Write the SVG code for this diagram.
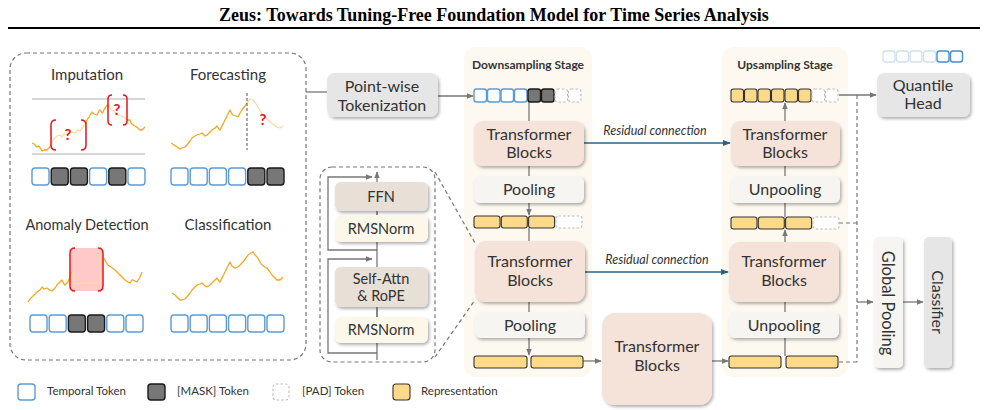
<svg xmlns="http://www.w3.org/2000/svg" width="985" height="410" viewBox="0 0 985 410">
<defs>
<style>
.t{font-family:Lato,"Open Sans","Noto Sans",sans-serif;fill:#333;text-anchor:middle}
.lg{font-family:Lato,"Open Sans",sans-serif;fill:#333;font-size:11.5px}
.tok{fill:#fff;stroke:#5b9bd5;stroke-width:1.4}
.msk{fill:#777;stroke:#1a1a1a;stroke-width:1.4}
.pad{fill:#fff;stroke:#bbb;stroke-width:1.1;stroke-dasharray:2.5,2}
.rep{fill:#fdd98a;stroke:#333;stroke-width:1.1}
.tb{fill:#f5e2d8}
.pl{fill:#f6f5f1}
.gr{fill:#e6e6e6}
.stage{fill:#fdf8f0}
.ln{stroke:#777;stroke-width:1.3;fill:none}
.dl{stroke:#777;stroke-width:1.2;fill:none;stroke-dasharray:4,3}
.res{stroke:#2b6385;stroke-width:1.4;fill:none}
.ser{fill:none;stroke:#f5a623;stroke-width:1.3;stroke-linejoin:round}
.fad{fill:none;stroke:#fcd9a5;stroke-width:1.3;stroke-linejoin:round}
.brk{fill:none;stroke:#e8141c;stroke-width:1.5}
.q{font-family:Lato,"Open Sans",sans-serif;font-weight:bold;fill:#e8141c;font-size:15px;text-anchor:middle}
.ri{font-family:Lato,"Open Sans",sans-serif;font-style:italic;font-size:12.5px;fill:#333;text-anchor:middle}
</style>
<filter id="sh" x="-15%" y="-15%" width="135%" height="150%"><feDropShadow dx="1.5" dy="2" stdDeviation="1.4" flood-color="#000" flood-opacity="0.3"/></filter>
<marker id="ag" viewBox="0 0 10 10" refX="9" refY="5" markerWidth="7" markerHeight="7" orient="auto" markerUnits="userSpaceOnUse"><path d="M0,1 L10,5 L0,9 z" fill="#777"/></marker>
<marker id="ab" viewBox="0 0 10 10" refX="9" refY="5" markerWidth="8" markerHeight="8" orient="auto" markerUnits="userSpaceOnUse"><path d="M0,1 L10,5 L0,9 z" fill="#2b6385"/></marker>
</defs>
<rect width="985" height="410" fill="#fff"/>

<g id="title">
<text x="494" y="21" font-family="'Liberation Serif',serif" font-weight="bold" font-size="18" text-anchor="middle" fill="#000">Zeus: Towards Tuning-Free Foundation Model for Time Series Analysis</text>
<line x1="8" y1="28" x2="980" y2="28" stroke="#000" stroke-width="2"/>
</g>

<g id="tasks">
<rect x="10" y="53" width="296" height="307" rx="16" class="dl" stroke-width="1.3" stroke-dasharray="6,4"/>
<text class="t" x="87" y="80" font-size="15">Imputation</text>
<text class="t" x="228" y="80" font-size="15">Forecasting</text>
<text class="t" x="87" y="230" font-size="14.5">Anomaly Detection</text>
<text class="t" x="228" y="230" font-size="15">Classification</text>
<line x1="32" y1="99" x2="145" y2="99" stroke="#999" stroke-width="0.8"/>
<line x1="32" y1="154" x2="145" y2="154" stroke="#999" stroke-width="0.8"/>
<polyline class="ser" points="32,143 34,144 37,147 39,146 42,151 44,150 47,150 49,148 51,145"/>
<polyline class="fad" points="51,145 53,140 55,138 57,136 60,135 62,137 64,134 67,135 69,133 72,132 75,133 78,130 80,131 83,127 86,124"/>
<polyline class="ser" points="86,124 87,120 89,117 92,112 94,114 97,115 99,111 100,110 102,113 103,112 105,108 108,104"/>
<polyline class="fad" points="108,104 110,108 112,110 115,112 118,115 121,116 124,117 127,120"/>
<polyline class="ser" points="127,120 130,120 131,123 133,125 135,126 138,128 140,130 142,130 145,127"/>
<path class="brk" d="M56,120 Q51,120 51,125 L51,145 Q51,150 56,150 M81,120 Q86,120 86,125 L86,145 Q86,150 81,150"/>
<path class="brk" d="M112,95 Q108,95 108,99 L108,121 Q108,125 112,125 M123,95 Q127,95 127,99 L127,121 Q127,125 123,125"/>
<text class="q" x="68" y="140">?</text>
<text class="q" x="117" y="115">?</text>
<polyline class="ser" points="171,143 174,145 177,147 180,149 182,148 185,147 187,145 190,141 192,138 195,136 197,135 200,134 202,133 205,136 207,135 210,132 212,130 215,128 217,126 219,129 220,130 223,124 225,120 228,114 230,110 232,114 233,115 236,116 238,117 240,113 242,110 245,106 247,103"/>
<polyline class="fad" points="247,103 250,99 253,100 256,104 258,107 261,112 263,115 266,118 270,122 273,124 277,127 280,128 283,126"/>
<line x1="247" y1="93" x2="247" y2="150" stroke="#555" stroke-width="1" stroke-dasharray="3,2"/>
<text class="q" x="263" y="125">?</text>
<rect x="70" y="248" width="33" height="43" rx="5" fill="#ffc9c9"/>
<polyline class="ser" points="28,302 30,299 32,297 35,294 37,292 40,290 42,287 44,289 47,288 50,290 52,291 55,288 57,285 60,282 62,280 64,284 65,285 67,283 68,282 70,277 71,272"/>
<polyline class="fad" points="73,272 73,283 100,283 100,250"/>
<polyline class="ser" points="104,258 106,262 108,265 111,267 115,270 118,273 120,275 123,278 125,280 128,282 130,283 132,280 133,280 135,281 137,282 140,277 142,272"/>
<path class="brk" d="M75,248 Q70,248 70,253 L70,286 Q70,291 75,291 M98,248 Q103,248 103,253 L103,286 Q103,291 98,291"/>
<polyline class="ser" points="172,293 175,295 177,297 180,300 182,300 185,299 187,297 190,293 192,290 195,287 197,285 200,284 202,283 205,286 207,287 210,285 212,283 215,280 217,278 219,281 220,282 223,276 225,272 228,266 230,262 232,266 235,268 238,267 240,265 243,262 246,258 248,255 251,253 253,252 255,255 258,258 260,262 262,265 265,267 267,268 270,272 272,275 275,278 277,280 280,280 283,277"/>
<rect class="tok" x="32" y="168" width="17" height="17" rx="3"/>
<rect class="msk" x="51.2" y="168" width="17" height="17" rx="3"/>
<rect class="msk" x="70.4" y="168" width="17" height="17" rx="3"/>
<rect class="tok" x="89.6" y="168" width="17" height="17" rx="3"/>
<rect class="msk" x="108.8" y="168" width="17" height="17" rx="3"/>
<rect class="tok" x="128" y="168" width="17" height="17" rx="3"/>
<rect class="tok" x="171" y="168" width="17" height="17" rx="3"/>
<rect class="tok" x="190.2" y="168" width="17" height="17" rx="3"/>
<rect class="tok" x="209.4" y="168" width="17" height="17" rx="3"/>
<rect class="tok" x="228.6" y="168" width="17" height="17" rx="3"/>
<rect class="msk" x="247.8" y="168" width="17" height="17" rx="3"/>
<rect class="msk" x="267" y="168" width="17" height="17" rx="3"/>
<rect class="tok" x="30" y="315" width="17" height="17" rx="3"/>
<rect class="tok" x="49.2" y="315" width="17" height="17" rx="3"/>
<rect class="msk" x="68.4" y="315" width="17" height="17" rx="3"/>
<rect class="msk" x="87.6" y="315" width="17" height="17" rx="3"/>
<rect class="tok" x="106.8" y="315" width="17" height="17" rx="3"/>
<rect class="tok" x="126" y="315" width="17" height="17" rx="3"/>
<rect class="tok" x="171" y="315" width="17" height="17" rx="3"/>
<rect class="tok" x="190.2" y="315" width="17" height="17" rx="3"/>
<rect class="tok" x="209.4" y="315" width="17" height="17" rx="3"/>
<rect class="tok" x="228.6" y="315" width="17" height="17" rx="3"/>
<rect class="tok" x="247.8" y="315" width="17" height="17" rx="3"/>
<rect class="tok" x="267" y="315" width="17" height="17" rx="3"/>
</g>

<g id="stages">
<rect class="stage" x="464" y="47" width="128" height="330" rx="12"/>
<rect class="stage" x="722" y="47" width="126" height="330" rx="12"/>
<text class="t" x="528" y="69" font-size="12" font-weight="bold" fill="#222">Downsampling Stage</text>
<text class="t" x="785" y="69" font-size="12" font-weight="bold" fill="#222">Upsampling Stage</text>
</g>

<g id="connectors">
<line class="ln" x1="306" y1="92" x2="327" y2="92"/>
<line class="ln" x1="438" y1="96" x2="473" y2="96" marker-end="url(#ag)"/>
<line class="ln" x1="529" y1="102" x2="529" y2="121"/>
<line class="ln" x1="529" y1="166" x2="529" y2="176"/>
<line class="ln" x1="529" y1="203" x2="529" y2="215" marker-end="url(#ag)"/>
<line class="ln" x1="529" y1="228" x2="529" y2="241"/>
<line class="ln" x1="529" y1="302" x2="529" y2="312"/>
<line class="ln" x1="529" y1="338" x2="529" y2="355" marker-end="url(#ag)"/>
<line class="ln" x1="583" y1="361" x2="601" y2="361" marker-end="url(#ag)"/>
<line class="ln" x1="712" y1="361" x2="728" y2="361" marker-end="url(#ag)"/>
<line class="ln" x1="785" y1="356" x2="785" y2="338"/>
<line class="ln" x1="785" y1="312" x2="785" y2="302"/>
<line class="ln" x1="785" y1="242" x2="785" y2="230" marker-end="url(#ag)"/>
<line class="ln" x1="785" y1="217" x2="785" y2="203"/>
<line class="ln" x1="785" y1="176" x2="785" y2="166"/>
<line class="ln" x1="785" y1="121" x2="785" y2="103" marker-end="url(#ag)"/>
<line class="res" x1="584" y1="143" x2="730" y2="143" marker-end="url(#ab)"/>
<line class="res" x1="585" y1="272" x2="728" y2="272" marker-end="url(#ab)"/>
<text class="ri" x="655" y="135">Residual connection</text>
<text class="ri" x="657" y="264">Residual connection</text>
<line class="ln" x1="839" y1="95" x2="876" y2="95" marker-end="url(#ag)"/>
<line class="dl" x1="857" y1="95" x2="857" y2="362"/>
<line class="dl" x1="839" y1="223" x2="857" y2="223"/>
<line class="dl" x1="839" y1="362" x2="857" y2="362"/>
<line class="ln" x1="857" y1="302" x2="873" y2="302" marker-end="url(#ag)"/>
<line class="ln" x1="903" y1="302" x2="923" y2="302" marker-end="url(#ag)"/>
<line class="dl" x1="435" y1="172" x2="475" y2="243"/>
<line class="dl" x1="435" y1="357" x2="475" y2="300"/>
</g>

<g id="pointwise">
<rect class="gr" x="327" y="73" width="111" height="44" rx="8" filter="url(#sh)"/>
<text class="t" x="382" y="92" font-size="16">Point-wise</text>
<text class="t" x="382" y="111" font-size="16">Tokenization</text>
</g>

<g id="block-detail">
<rect x="320" y="167" width="115" height="195" rx="12" class="dl" stroke-dasharray="4,3"/>
<path class="ln" d="M377,360 L377,172" marker-end="url(#ag)"/>
<path class="ln" d="M377,250 L328,250 L328,177 L372,177" marker-end="url(#ag)"/>
<path class="ln" d="M377,353 L328,353 L328,259 L372,259" marker-end="url(#ag)"/>
<rect x="335" y="182" width="93" height="29" rx="6" fill="#e8dfd6" filter="url(#sh)"/>
<rect x="335" y="215" width="93" height="27" rx="6" fill="#fbf8ea" filter="url(#sh)"/>
<rect x="335" y="267" width="93" height="40" rx="6" fill="#e8dfd6" filter="url(#sh)"/>
<rect x="335" y="317" width="93" height="26" rx="6" fill="#fbf8ea" filter="url(#sh)"/>
<line class="ln" x1="377" y1="211" x2="377" y2="215"/>
<line class="ln" x1="377" y1="307" x2="377" y2="317"/>
<text class="t" x="381" y="202" font-size="14.5">FFN</text>
<text class="t" x="381" y="234" font-size="14.5">RMSNorm</text>
<text class="t" x="381" y="284" font-size="14.5">Self-Attn</text>
<text class="t" x="381" y="301" font-size="14.5">&amp; RoPE</text>
<text class="t" x="381" y="335" font-size="14.5">RMSNorm</text>
</g>

<g id="down-tokens">
<rect class="tok" x="474" y="89" width="12.5" height="13" rx="2.5"/>
<rect class="tok" x="487.5" y="89" width="12.5" height="13" rx="2.5"/>
<rect class="tok" x="501" y="89" width="12.5" height="13" rx="2.5"/>
<rect class="tok" x="514.5" y="89" width="12.5" height="13" rx="2.5"/>
<rect class="msk" x="528" y="89" width="12.5" height="13" rx="2.5"/>
<rect class="msk" x="541.5" y="89" width="12.5" height="13" rx="2.5"/>
<rect class="pad" x="555" y="89" width="12.5" height="13" rx="2.5"/>
<rect class="pad" x="568.5" y="89" width="12.5" height="13" rx="2.5"/>
<rect class="rep" x="474" y="216" width="26" height="12" rx="2.5"/>
<rect class="rep" x="501.3" y="216" width="26" height="12" rx="2.5"/>
<rect class="rep" x="528.6" y="216" width="26" height="12" rx="2.5"/>
<rect class="pad" x="556" y="216" width="26" height="12" rx="2.5"/>
<rect class="rep" x="474" y="356" width="53" height="12" rx="2.5"/>
<rect class="rep" x="531" y="356" width="52" height="12" rx="2.5"/>
</g>

<g id="down-tb1">
<rect class="tb" x="474" y="121" width="110" height="45" rx="9" filter="url(#sh)"/>
<text class="t" x="529" y="140" font-size="16">Transformer</text>
<text class="t" x="529" y="158" font-size="16">Blocks</text>
</g>
<g id="down-pool1">
<rect class="pl" x="474" y="176" width="110" height="27" rx="6" filter="url(#sh)"/>
<text class="t" x="529" y="195" font-size="16">Pooling</text>
</g>
<g id="down-tb2">
<rect class="tb" x="475" y="241" width="110" height="61" rx="11" filter="url(#sh)"/>
<text class="t" x="530" y="267" font-size="16">Transformer</text>
<text class="t" x="530" y="286" font-size="16">Blocks</text>
</g>
<g id="down-pool2">
<rect class="pl" x="475" y="312" width="110" height="26" rx="6" filter="url(#sh)"/>
<text class="t" x="530" y="331" font-size="16">Pooling</text>
</g>
<g id="mid-tb">
<rect class="tb" x="602" y="313" width="110" height="92" rx="13" filter="url(#sh)"/>
<text class="t" x="657" y="352" font-size="16">Transformer</text>
<text class="t" x="657" y="371" font-size="16">Blocks</text>
</g>

<g id="up-tokens">
<rect class="rep" x="731" y="89" width="12.5" height="13" rx="2.5"/>
<rect class="rep" x="744.5" y="89" width="12.5" height="13" rx="2.5"/>
<rect class="rep" x="758" y="89" width="12.5" height="13" rx="2.5"/>
<rect class="rep" x="771.5" y="89" width="12.5" height="13" rx="2.5"/>
<rect class="rep" x="785" y="89" width="12.5" height="13" rx="2.5"/>
<rect class="rep" x="798.5" y="89" width="12.5" height="13" rx="2.5"/>
<rect class="pad" x="812" y="89" width="12.5" height="13" rx="2.5"/>
<rect class="pad" x="825.5" y="89" width="12.5" height="13" rx="2.5"/>
<rect class="rep" x="731" y="217" width="26" height="12" rx="2.5"/>
<rect class="rep" x="758.3" y="217" width="26" height="12" rx="2.5"/>
<rect class="rep" x="785.6" y="217" width="26" height="12" rx="2.5"/>
<rect class="pad" x="813" y="217" width="26" height="12" rx="2.5"/>
<rect class="rep" x="729" y="356" width="52" height="12" rx="2.5"/>
<rect class="rep" x="786" y="356" width="52" height="12" rx="2.5"/>
</g>
<g id="up-tb1">
<rect class="tb" x="731" y="121" width="109" height="45" rx="9" filter="url(#sh)"/>
<text class="t" x="785" y="140" font-size="16">Transformer</text>
<text class="t" x="785" y="158" font-size="16">Blocks</text>
</g>
<g id="up-unpool1">
<rect class="pl" x="731" y="176" width="109" height="27" rx="6" filter="url(#sh)"/>
<text class="t" x="785" y="195" font-size="16">Unpooling</text>
</g>
<g id="up-tb2">
<rect class="tb" x="729" y="242" width="110" height="60" rx="11" filter="url(#sh)"/>
<text class="t" x="784" y="267" font-size="16">Transformer</text>
<text class="t" x="784" y="286" font-size="16">Blocks</text>
</g>
<g id="up-unpool2">
<rect class="pl" x="729" y="312" width="110" height="26" rx="6" filter="url(#sh)"/>
<text class="t" x="784" y="331" font-size="16">Unpooling</text>
</g>

<g id="quantile">
<rect x="883" y="51" width="12" height="11" rx="2.5" fill="#fff" stroke="#cfe0f2" stroke-width="1.3"/>
<rect x="896.5" y="51" width="12" height="11" rx="2.5" fill="#fff" stroke="#cfe0f2" stroke-width="1.3"/>
<rect x="910" y="51" width="12" height="11" rx="2.5" fill="#fff" stroke="#cfe0f2" stroke-width="1.3"/>
<rect x="923.5" y="51" width="12" height="11" rx="2.5" fill="#fff" stroke="#cfe0f2" stroke-width="1.3"/>
<rect x="937" y="51" width="12" height="11" rx="2.5" fill="#fff" stroke="#4a8ccc" stroke-width="1.4"/>
<rect x="950.5" y="51" width="12" height="11" rx="2.5" fill="#fff" stroke="#4a8ccc" stroke-width="1.4"/>
<rect class="gr" x="877" y="73" width="93" height="44" rx="7" filter="url(#sh)"/>
<text class="t" x="923" y="91" font-size="16">Quantile</text>
<text class="t" x="923" y="109" font-size="16">Head</text>
</g>
<g id="global-pooling">
<rect class="pl" x="874" y="237" width="29" height="131" rx="5" filter="url(#sh)"/>
<text class="t" x="888" y="303" font-size="16.5" dominant-baseline="central" transform="rotate(90 888 303)">Global Pooling</text>
</g>
<g id="classifier">
<rect class="gr" x="924" y="237" width="28" height="131" rx="5" filter="url(#sh)"/>
<text class="t" x="938" y="302" font-size="16" dominant-baseline="central" transform="rotate(90 938 302)">Classifier</text>
</g>

<g id="legend">
<rect class="tok" x="18" y="384" width="17" height="16" rx="3"/>
<text class="lg" x="47" y="395">Temporal Token</text>
<rect class="msk" x="148" y="384" width="17" height="16" rx="3"/>
<text class="lg" x="177" y="395">[MASK] Token</text>
<rect class="pad" x="273" y="384" width="16" height="16" rx="3"/>
<text class="lg" x="302" y="395">[PAD] Token</text>
<rect class="rep" x="393" y="384" width="17" height="16" rx="3"/>
<text class="lg" x="421" y="395">Representation</text>
</g>
</svg>
